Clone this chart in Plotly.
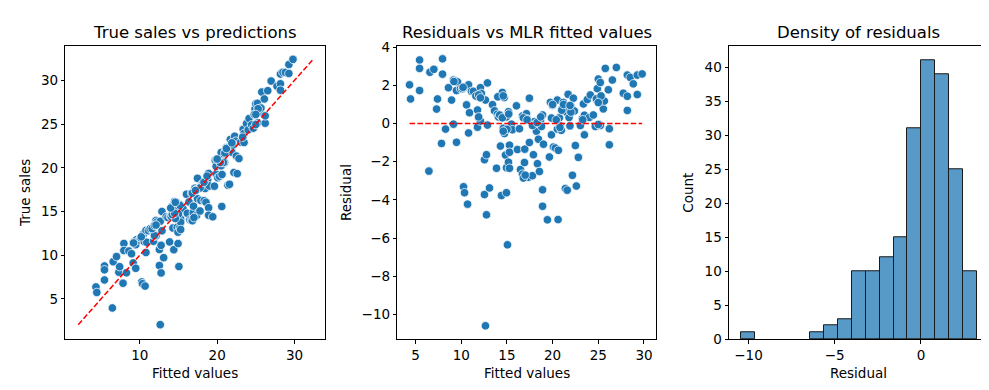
import plotly.graph_objects as go

# ---- data ----
fitted = [4.34, 4.45, 5.44, 5.44, 5.44, 6.46, 6.57, 7.0, 7.3, 7.4, 7.84, 7.95, 7.95, 8.28, 8.6, 8.94,
          9.15, 9.15, 9.37, 9.48, 9.48, 9.6, 9.92, 10.14, 10.25, 10.36, 10.47, 10.58, 10.69, 10.8, 10.8,
          10.9, 11.12, 11.34, 11.78, 11.78, 11.89, 12.0, 12.1, 12.1, 12.2, 12.54, 12.54, 12.65, 12.76,
          12.76, 12.87, 12.87, 12.65, 13.09, 13.42, 13.64, 13.86, 13.96, 14.07, 14.18, 14.29, 14.4, 14.4,
          14.5, 14.6, 14.7, 14.73, 14.84, 14.95, 14.95, 14.95, 15.06, 15.17, 15.17, 15.28, 15.28, 15.28,
          15.5, 15.6, 16.04, 16.15, 16.37, 16.48, 16.7, 16.7, 16.92, 16.95, 17.0, 17.14, 17.24, 17.35,
          17.46, 17.46, 17.79, 17.9, 17.9, 18.0, 18.12, 18.23, 18.34, 18.45, 18.56, 18.67, 18.78, 18.9,
          18.9, 18.9, 19.0, 19.43, 19.65, 19.76, 19.87, 19.87, 19.98, 20.09, 20.3, 20.52, 20.52, 20.6,
          20.63, 20.74, 20.85, 20.96, 21.07, 21.17, 21.4, 21.5, 21.6, 21.7, 21.8, 21.9, 22.0, 22.17,
          22.27, 22.38, 22.49, 22.6, 22.82, 23.04, 23.26, 23.37, 23.48, 23.48, 23.8, 24.02, 24.13, 24.46,
          24.68, 24.79, 24.9, 25.0, 25.11, 25.22, 25.22, 25.34, 25.55, 25.66, 25.77, 26.1, 26.21, 26.21,
          26.54, 26.98, 27.74, 28.18, 28.18, 28.18, 28.5, 28.83, 29.27, 29.27, 29.8,
          16.8, 17.0, 17.8, 15.0, 20.8, 25.0, 14.6, 14.2, 14.5, 15.2, 16.8, 17.2, 18.3, 18.7, 20.4,
          21.0, 22.0, 23.3, 11.9, 11.6, 11.9, 12.1, 14.0, 14.6, 20.0, 21.2, 21.9, 24.8, 25.3, 25.0,
          9.2, 10.2]
residual = [2.03, 1.29, 3.33, 2.89, 1.73, -2.49, 2.69, 2.84, 0.76, 1.29, -1.04, 3.39, 2.59, -0.29, 1.88,
            1.23, -0.03, 2.28, 2.23, -0.98, 1.73, 2.18, 1.83, 1.83, -3.31, -3.62, 1.93, 0.98, -4.22, 2.03,
            -0.49, 0.57, 1.69, 1.69, 0.71, -0.19, 0.3, 1.38, 1.88, 0.13, 1.58, -3.72, -1.89, 1.23, -4.78,
            -1.63, 2.13, -0.08, -10.59, -3.37, 0.99, 0.67, -2.34, 0.49, 0.35, 1.43, -1.18, -3.77, 0.37,
            1.63, -0.25, 1.36, -0.52, -1.65, 0.35, -2.31, -3.62, -6.35, 0.62, -2.02, -1.13, -1.5, -2.34,
            -0.03, -0.32, 0.93, -1.36, -0.27, -2.41, -2.65, 0.4, -2.04, -1.34, -2.78, 0.52, 0.24, -2.81,
            1.33, -0.99, -2.73, -1.63, -0.05, 0.1, -0.02, -0.4, -2.1, -0.82, -2.51, 0.15, -0.15, -3.47,
            -4.33, 0.45, -1.08, -5.04, -1.75, 1.11, -0.59, 0.29, 0.96, -1.23, -1.28, 1.23, -0.29, -5.03,
            -1.4, 0.3, -0.12, -0.35, 0.81, 1.11, -3.4, 0.61, -3.49, 1.53, 0.32, -0.12, 0.91, -2.71,
            1.33, 0.66, -1.15, -3.27, -1.77, -0.1, 0.27, 1.03, -0.59, 0.44, 1.26, 0.32, 1.5, 0.45,
            -0.15, 1.28, 1.83, 2.33, -0.03, 2.15, -0.1, 1.36, 0.77, 1.18, 2.89, 1.77, -1.11, -0.27,
            2.28, 2.94, 1.59, 2.54, 1.43, 0.69, 2.42, 2.08, 2.54, 1.52, 2.6,
            -2.85, -2.7, -0.1, -0.3, -0.2, -0.05, -0.4, 0.45, 0.3, 0.5, 0.3, 0.2, 0.05, 0.35, 0.2,
            0.7, 0.6, 0.2, 0.35, 1.45, 1.5, 1.35, 1.4, 1.45, 1.0, 1.0, 0.95, 1.3, 1.45, 1.1,
            2.2, 1.9]
true_sales = [f + r for f, r in zip(fitted, residual)]

hist_start = -10.43
hist_width = 0.804
hist_counts = [1, 0, 0, 0, 0, 1, 2, 3, 10, 10, 12, 15, 31, 41, 39, 25, 10]
hist_centers = [hist_start + hist_width * (i + 0.5) for i in range(len(hist_counts))]

titles = ["True sales vs predictions", "Residuals vs MLR fitted values", "Density of residuals"]
xlabels = ["Fitted values", "Fitted values", "Residual"]
ylabels = ["True sales", "Residual", "Count"]

BLUE = "#1f77b4"
FONT = "DejaVu Sans"
W, H = 989, 390

fig = go.Figure()

# panel 1
fig.add_trace(go.Scatter(x=fitted, y=true_sales, mode="markers", xaxis="x", yaxis="y",
                         marker=dict(color=BLUE, size=8.5, line=dict(color="white", width=0.75)),
                         showlegend=False))
lo, hi = min(true_sales), max(true_sales)
fig.add_trace(go.Scatter(x=[lo, hi], y=[lo, hi], mode="lines", xaxis="x", yaxis="y",
                         line=dict(color="red", width=1.5, dash="5.5px,2.4px"), showlegend=False))

# panel 2
fig.add_trace(go.Scatter(x=fitted, y=residual, mode="markers", xaxis="x2", yaxis="y2",
                         marker=dict(color=BLUE, size=8.5, line=dict(color="white", width=0.75)),
                         showlegend=False))
fig.add_trace(go.Scatter(x=[min(fitted), max(fitted)], y=[0, 0], mode="lines", xaxis="x2", yaxis="y2",
                         line=dict(color="red", width=1.5, dash="5.5px,2.4px"), showlegend=False))

# panel 3
fig.add_trace(go.Bar(x=hist_centers, y=hist_counts, width=hist_width, xaxis="x3", yaxis="y3",
                     marker=dict(color="rgba(31,119,180,0.75)",
                                 line=dict(color="#1a1a1a",
                                           width=[1 if c > 0 else 0 for c in hist_counts])),
                     showlegend=False))

ydom = [1 - 337.3 / H, 1 - 32.5 / H]
xdoms = [[57.3 / W, 316.7 / W], [389.3 / W, 648.3 / W], [721 / W, 980.7 / W]]

def ax(dom, rng, tickvals, anchor):
    return dict(domain=dom, range=rng, tickvals=tickvals,
                ticktext=[str(v).replace("-", "\u2212") for v in tickvals],
                showgrid=False, zeroline=False, showline=True, mirror=True,
                linecolor="black", linewidth=1, ticks="outside", ticklen=3.5,
                tickcolor="black", tickwidth=1, anchor=anchor,
                tickfont=dict(family=FONT, size=13.5, color="black"))

layout = dict(
    width=W, height=H, margin=dict(l=0, r=0, t=0, b=0),
    plot_bgcolor="white", paper_bgcolor="white", bargap=0,
    xaxis=ax(xdoms[0], [0.38, 33.9], [10, 20, 30], "y"),
    yaxis=ax(ydom, [0.38, 33.9], [5, 10, 15, 20, 25, 30], "x"),
    xaxis2=ax(xdoms[1], [3.0, 31.35], [5, 10, 15, 20, 25, 30], "y2"),
    yaxis2=ax(ydom, [-11.3, 4.05], [-10, -8, -6, -4, -2, 0, 2, 4], "x2"),
    xaxis3=ax(xdoms[2], [-11.13, 3.93], [-10, -5, 0], "y3"),
    yaxis3=ax(ydom, [0, 43.05], [0, 5, 10, 15, 20, 25, 30, 35, 40], "x3"),
)
fig.update_layout(**layout)

ann = []
ylab_off = [41, 52, 41]
for i in range(3):
    xc = (xdoms[i][0] + xdoms[i][1]) / 2
    ann.append(dict(text=titles[i], x=xc, y=1 - 18 / H, xref="paper", yref="paper",
                    showarrow=False, xanchor="center", yanchor="middle",
                    font=dict(family=FONT, size=16.5, color="black")))
    ann.append(dict(text=xlabels[i], x=xc, y=1 - 372 / H, xref="paper", yref="paper",
                    showarrow=False, xanchor="center", yanchor="middle",
                    font=dict(family=FONT, size=13.5, color="black")))
    ann.append(dict(text=ylabels[i], x=xdoms[i][0] - ylab_off[i] / W, y=(ydom[0] + ydom[1]) / 2,
                    xref="paper", yref="paper", textangle=-90,
                    showarrow=False, xanchor="center", yanchor="middle",
                    font=dict(family=FONT, size=13.5, color="black")))
fig.update_layout(annotations=ann)

fig.write_html("out.html")
